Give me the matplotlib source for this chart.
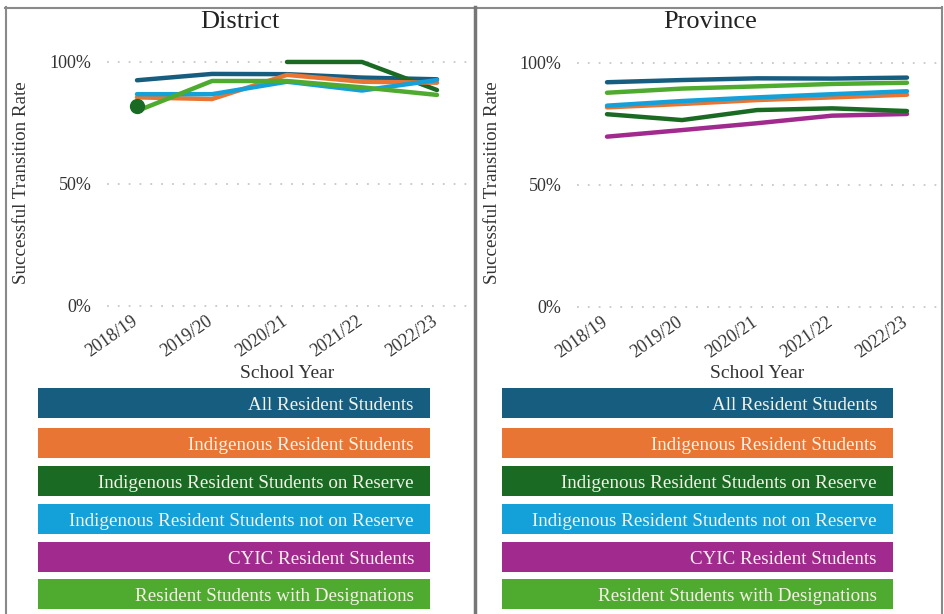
import numpy as np
import matplotlib
matplotlib.use('Agg')
import matplotlib.pyplot as plt
from matplotlib.patches import Rectangle
from matplotlib.lines import Line2D
from matplotlib.transforms import ScaledTranslation

W, H = 944, 614

years = ["2018/19", "2019/20", "2020/21", "2021/22", "2022/23"]
groups = [
    "All Resident Students",
    "Indigenous Resident Students",
    "Indigenous Resident Students on Reserve",
    "Indigenous Resident Students not on Reserve",
    "CYIC Resident Students",
    "Resident Students with Designations",
]
colors = ["#175d80", "#e87533", "#1b6a24", "#14a0d9", "#a02a8e", "#4fab2f"]

# District values (NaN = suppressed)
district_all = [92.5, 95.1, 95.0, 93.6, 92.9]
district_indig = [85.5, 84.8, 94.7, 91.9, 91.5]
district_on_res = [82.0, np.nan, 100.0, 100.0, 88.5]
district_not_res = [86.8, 86.8, 91.9, 88.3, 92.6]
district_cyic = [np.nan, np.nan, np.nan, np.nan, np.nan]
district_desig = [79.9, 92.2, 92.2, 89.6, 86.5]

# Province values
province_all = [92.1, 93.0, 93.7, 93.6, 94.0]
province_indig = [81.8, 83.2, 84.8, 85.9, 87.0]
province_on_res = [79.0, 76.6, 80.7, 81.4, 80.3]
province_not_res = [82.5, 84.4, 85.9, 87.2, 88.4]
province_cyic = [69.8, 72.5, 75.3, 78.4, 79.1]
province_desig = [87.8, 89.5, 90.4, 91.4, 91.9]

district = [district_all, district_indig, district_on_res, district_not_res, district_cyic, district_desig]
province = [province_all, province_indig, province_on_res, province_not_res, province_cyic, province_desig]

# draw order roughly as seen in the picture
draw_order = [0, 4, 2, 1, 3, 5]

plt.rcParams['font.family'] = ['Liberation Serif', 'DejaVu Serif']

fig = plt.figure(figsize=(W / 100, H / 100), dpi=100)
txt_col = '#333333'


def px_axes(x0, y0, x1, y1):
    # pixel box -> figure fraction axes
    return fig.add_axes([x0 / W, 1 - y1 / H, (x1 - x0) / W, (y1 - y0) / H])


def draw_panel(ax, data, title, title_x, ylab_x, xlab_y):
    x = np.arange(len(years))
    for i in draw_order:
        vals = np.array(data[i], dtype=float)
        ax.plot(x, vals, color=colors[i], lw=3.2, solid_capstyle='round', zorder=3)
        # isolated points get a marker
        for j in range(len(vals)):
            if np.isnan(vals[j]):
                continue
            left = j == 0 or np.isnan(vals[j - 1])
            right = j == len(vals) - 1 or np.isnan(vals[j + 1])
            if left and right:
                ax.plot(x[j], vals[j], 'o', color=colors[i], ms=10, zorder=4)
    ax.set_xlim(-0.4, 4.4)
    ax.set_ylim(-2.05, 109)
    ax.set_yticks([0, 50, 100])
    ax.set_yticklabels(["0%", "50%", "100%"])
    ax.set_xticks(x)
    ax.set_xticklabels(years, rotation=35, ha='right', rotation_mode='anchor')
    ax.tick_params(length=0, labelsize=13, colors=txt_col)
    ax.tick_params(axis='y', pad=11)
    ax.tick_params(axis='x', pad=1)
    # nudge the rotated year labels a little to the left, as in the original
    for lab in ax.get_xticklabels():
        lab.set_transform(lab.get_transform() + ScaledTranslation(-6 / 100, 0, fig.dpi_scale_trans))
    for y in [0, 50, 100]:
        ax.axhline(y, color='#c8c8c8', lw=1.3, ls=(0, (1, 5)), zorder=1, clip_on=False)
    for s in ax.spines.values():
        s.set_visible(False)
    fig.text(title_x / W, 1 - 22 / H, title, ha='center', va='center', fontsize=19, color='#222222')
    fig.text(ylab_x / W, 1 - 183 / H, "Successful Transition Rate", rotation=90,
             ha='center', va='center', fontsize=13.7, color=txt_col)
    fig.text(title_x / W + 47 / W, 1 - xlab_y / H, "School Year", ha='center', va='center',
             fontsize=14, color=txt_col)


ax1 = px_axes(107, 40, 467, 311)
draw_panel(ax1, district, "District", 240, 22, 373)
ax2 = px_axes(577, 41, 937, 312)
draw_panel(ax2, province, "Province", 710, 492, 374)

# legend boxes under each panel
box_tops = [388, 428, 466, 504, 542, 579]
for bx0, bx1 in [(38, 430), (502, 893)]:
    for i, name in enumerate(groups):
        y0 = box_tops[i]
        fig.patches.append(Rectangle((bx0 / W, 1 - (y0 + 30) / H), (bx1 - bx0) / W, 30 / H,
                                     transform=fig.transFigure, facecolor=colors[i],
                                     edgecolor='none'))
        fig.text((bx1 - 16) / W, 1 - (y0 + 17.5) / H, name, ha='right', va='center',
                 fontsize=13.7, color='#f4f1e6')

# panel frame
frame_col = '#8a8a8a'
fig.lines.append(Line2D([5 / W, 942 / W], [1 - 7.5 / H, 1 - 7.5 / H], transform=fig.transFigure,
                        color=frame_col, lw=1.5))
fig.lines.append(Line2D([5.5 / W, 5.5 / W], [0, 1 - 7 / H], transform=fig.transFigure,
                        color=frame_col, lw=1.5))
fig.lines.append(Line2D([942 / W, 942 / W], [0, 1 - 7 / H], transform=fig.transFigure,
                        color=frame_col, lw=1.5))
fig.lines.append(Line2D([474.5 / W, 474.5 / W], [0, 1 - 7 / H], transform=fig.transFigure,
                        color='#777777', lw=2.5))

fig.savefig("out.png", dpi=100, facecolor='white')
